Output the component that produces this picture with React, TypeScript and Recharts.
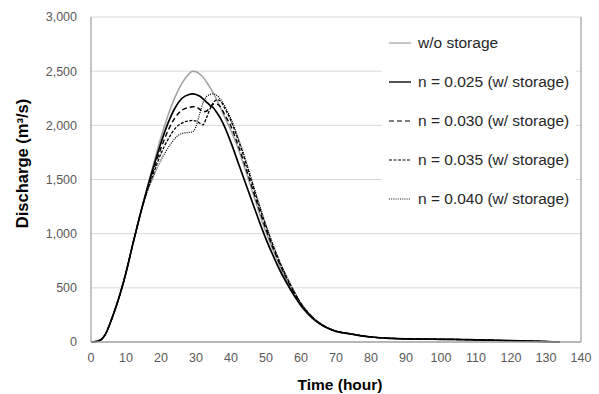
import React from 'react';
import { LineChart, Line, XAxis, YAxis, CartesianGrid, Legend, ReferenceLine } from 'recharts';

const time = [0, 2, 4, 6, 8, 10, 12, 14, 16, 18, 20, 22, 24, 26, 28, 29, 30, 31, 32, 33, 34, 35, 36, 37, 38, 40, 42, 44, 46, 48, 50, 52, 54, 56, 58, 60, 62, 64, 66, 68, 70, 72, 74, 76, 78, 80, 85, 90, 95, 100, 105, 110, 115, 120, 125, 130, 134];

const withoutStorage = [0, 8, 65, 220, 410, 640, 910, 1170, 1420, 1660, 1890, 2090, 2260, 2390, 2475, 2500, 2495, 2475, 2445, 2400, 2350, 2295, 2230, 2160, 2090, 1950, 1790, 1600, 1400, 1200, 1010, 850, 700, 560, 440, 340, 260, 200, 155, 122, 98, 85, 75, 64, 54, 46, 34, 28, 26, 25, 23, 20, 16, 12, 8, 4, 1];
const n025 = [0, 8, 65, 220, 410, 640, 910, 1170, 1410, 1630, 1840, 2020, 2160, 2250, 2285, 2290, 2285, 2270, 2245, 2215, 2185, 2160, 2115, 2065, 2000, 1840, 1660, 1480, 1300, 1120, 950, 800, 660, 540, 430, 335, 260, 200, 155, 122, 98, 85, 75, 64, 54, 46, 34, 28, 26, 25, 23, 20, 16, 12, 8, 4, 1];
const n030 = [0, 8, 65, 220, 410, 640, 910, 1170, 1400, 1600, 1790, 1950, 2070, 2140, 2165, 2172, 2170, 2150, 2125, 2130, 2170, 2195, 2195, 2170, 2110, 1990, 1820, 1630, 1430, 1230, 1040, 870, 715, 580, 455, 350, 270, 205, 158, 124, 100, 86, 76, 65, 55, 47, 35, 29, 27, 25, 23, 20, 16, 12, 8, 4, 1];
const n035 = [0, 8, 65, 220, 410, 640, 910, 1170, 1390, 1570, 1740, 1870, 1970, 2020, 2040, 2045, 2040, 2020, 2005, 2070, 2150, 2210, 2235, 2225, 2170, 2040, 1870, 1680, 1470, 1260, 1070, 890, 730, 590, 465, 355, 272, 208, 160, 125, 101, 87, 76, 65, 55, 47, 35, 29, 27, 25, 23, 20, 16, 12, 8, 4, 1];
const n040 = [0, 8, 65, 220, 410, 640, 910, 1170, 1380, 1540, 1680, 1790, 1880, 1925, 1935, 1940, 1990, 2100, 2210, 2265, 2285, 2290, 2275, 2240, 2190, 2060, 1890, 1700, 1490, 1280, 1080, 900, 740, 600, 470, 360, 275, 210, 162, 126, 102, 88, 77, 66, 56, 48, 36, 29, 27, 25, 23, 20, 16, 12, 8, 4, 1];

const xTicks = [0, 10, 20, 30, 40, 50, 60, 70, 80, 90, 100, 110, 120, 130, 140];
const yTicks = [0, 500, 1000, 1500, 2000, 2500, 3000];

const seriesNames = ['w/o storage', 'n = 0.025 (w/ storage)', 'n = 0.030 (w/ storage)', 'n = 0.035 (w/ storage)', 'n = 0.040 (w/ storage)'];
const seriesKeys = ['wo', 'n025', 'n030', 'n035', 'n040'];
const seriesColors = ['#a0a0a0', '#000000', '#000000', '#000000', '#000000'];
const seriesWidths = [1.5, 1.7, 1.4, 1.3, 1.2];
const seriesDashes = ['', '', '5 3', '3 1.5', '1 1.2'];

const data = time.map((t, i) => ({
  t,
  wo: withoutStorage[i],
  n025: n025[i],
  n030: n030[i],
  n035: n035[i],
  n040: n040[i],
}));

const FONT = '"Liberation Sans", Arial, sans-serif';

const fmt = (v: number) => v.toLocaleString('en-US');

const LegendContent = () => (
  <div style={{ background: '#fff', paddingLeft: 7, fontFamily: FONT }}>
    {seriesNames.map((name, i) => (
      <div key={name} style={{ display: 'flex', alignItems: 'center', height: 39 }}>
        <svg width={22} height={10} style={{ marginRight: 7 }}>
          <line x1={0} y1={5} x2={22} y2={5} stroke={seriesColors[i]} strokeWidth={seriesWidths[i] * 0.8} strokeDasharray={seriesDashes[i] || undefined} />
        </svg>
        <span style={{ fontSize: 15.5, color: '#262626', whiteSpace: 'nowrap' }}>{name}</span>
      </div>
    ))}
  </div>
);

export default function App() {
  return (
    <div style={{ position: 'absolute', left: 0, top: 0 }}>
      <LineChart width={599} height={394} data={data} margin={{ top: 17, right: 18, bottom: 0, left: 0 }}>
        <CartesianGrid horizontal={true} vertical={false} stroke="#d9d9d9" strokeWidth={1} />
        <XAxis
          dataKey="t"
          type="number"
          domain={[0, 140]}
          ticks={xTicks}
          height={52}
          tickLine={false}
          tickSize={6}
          tickMargin={5}
          axisLine={{ stroke: '#a6a6a6', strokeWidth: 1.3 }}
          tick={{ fill: '#595959', fontSize: 12.5, fontFamily: FONT }}
          label={(props: any) => {
            const vb = props.viewBox;
            return (
              <text x={vb.x + vb.width / 2 + 4} y={vb.y + 48} textAnchor="middle" fontFamily={FONT} fontSize={15.5} fontWeight="bold" fill="#000">
                Time (hour)
              </text>
            );
          }}
        />
        <YAxis
          type="number"
          domain={[0, 3000]}
          ticks={yTicks}
          width={91}
          tickLine={false}
          tickSize={6}
          tickMargin={8}
          tickFormatter={fmt}
          axisLine={{ stroke: '#a6a6a6', strokeWidth: 1.3 }}
          tick={{ fill: '#595959', fontSize: 12.5, fontFamily: FONT }}
          label={(props: any) => {
            const vb = props.viewBox;
            const cx = vb.x + 22;
            const cy = vb.y + vb.height / 2 - 16;
            return (
              <text x={cx} y={cy} transform={`rotate(-90, ${cx}, ${cy})`} textAnchor="middle" dominantBaseline="central" fontFamily={FONT} fontSize={16.5} fontWeight="bold" fill="#000">
                Discharge (m³/s)
              </text>
            );
          }}
        />
        <ReferenceLine x={140} stroke="#a6a6a6" strokeWidth={1.3} />
        {seriesKeys.map((k, i) => (
          <Line
            key={k}
            dataKey={k}
            name={seriesNames[i]}
            type="monotone"
            stroke={seriesColors[i]}
            strokeWidth={seriesWidths[i]}
            strokeDasharray={seriesDashes[i] || undefined}
            dot={false}
            activeDot={false}
            isAnimationActive={false}
          />
        ))}
        <Legend
          layout="vertical"
          align="center"
          verticalAlign="middle"
          content={<LegendContent />}
          wrapperStyle={{ left: 382, top: 23, width: 194 }}
        />
      </LineChart>
    </div>
  );
}
